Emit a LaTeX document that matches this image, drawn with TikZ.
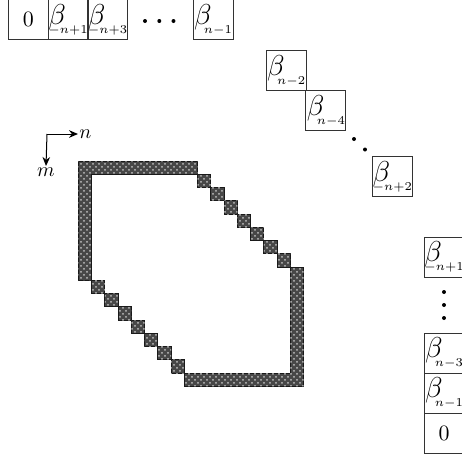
\documentclass[tikz,border=0pt]{standalone}
\usepackage{amsmath}
\usetikzlibrary{arrows.meta,patterns}
\tikzset{
  vbox/.style={draw=black!80,line width=0.45pt,minimum width=20pt,minimum height=20pt,inner sep=0pt,font=\fontsize{11}{12}\selectfont},
  cell/.style={fill=black!72,draw=black!90,line width=0.5pt,postaction={pattern=crosshatch dots,pattern color=black!25}},
  axisarrow/.style={-{Stealth[length=4.5pt,width=3.8pt]},line width=0.5pt},
  dotmark/.style={circle,fill=black,inner sep=0pt,minimum size=2pt},
  lab/.style={inner sep=0.5pt}
}
\newcommand{\bsub}[1]{\makebox[19pt]{\rlap{\fontsize{15}{16}\selectfont$\beta$}\hfill\raisebox{-4.5pt}{\fontsize{6.2}{7}\selectfont$\medmuskip=0mu #1$}}}
\begin{document}
\begin{tikzpicture}[x=0.5pt,y=-0.5pt]
  \clip (0,0) rectangle (462,461);
  % top row
  \node[vbox] (r0) at (28.3,19.5) {$0$};
  \node[vbox] (r1) at (68,19.5) {\bsub{-n+1}};
  \node[vbox] (r2) at (107.6,19.5) {\bsub{-n+3}};
  \node[dotmark] (t1) at (145,21) {};
  \node[dotmark] (t2) at (159.3,21) {};
  \node[dotmark] (t3) at (173.5,21) {};
  \node[vbox] (r3) at (213,19.5) {\bsub{n-1}};
  % diagonal
  \node[vbox] (d1) at (286.2,70.8) {\bsub{n-2}};
  \node[vbox] (d2) at (325.9,110.4) {\bsub{n-4}};
  \node[dotmark] (e1) at (354,139) {};
  \node[dotmark] (e2) at (365,149.5) {};
  \node[vbox] (d3) at (392.3,176.7) {\bsub{-n+2}};
  % right column
  \node[vbox] (c1) at (444,257) {\bsub{-n+1}};
  \node[dotmark] (v1) at (444,292) {};
  \node[dotmark] (v2) at (444,305) {};
  \node[dotmark] (v3) at (444,318) {};
  \node[vbox] (c2) at (444,353) {\bsub{n-3}};
  \node[vbox] (c3) at (444,393) {\bsub{n-1}};
  \node[vbox] (c4) at (444,433) {$0$};
  % axes
  \coordinate (o) at (47,134);
  \node[lab,anchor=west] (nlab) at (78,134) {$n$};
  \node[lab,anchor=north] (mlab) at (46,166) {$m$};
  \draw[axisarrow] (o) -- (nlab.west);
  \draw[axisarrow] (o) -- (mlab.north);
  % band
  \begin{scope}[shift={(78.3,161)},x=6.625pt,y=-6.625pt]
    \draw[cell] (0,0) -- (9,0) -- (9,1) -- (1,1) -- (1,9) -- (0,9) -- cycle;
    \draw[cell] (17,8) -- (17,17) -- (8,17) -- (8,16) -- (16,16) -- (16,8) -- cycle;
    \foreach \k in {1,...,7}{
      \draw[cell] (8+\k,\k) rectangle ++(1,1);
      \draw[cell] (\k,8+\k) rectangle ++(1,1);
    }
  \end{scope}
\end{tikzpicture}
\end{document}
